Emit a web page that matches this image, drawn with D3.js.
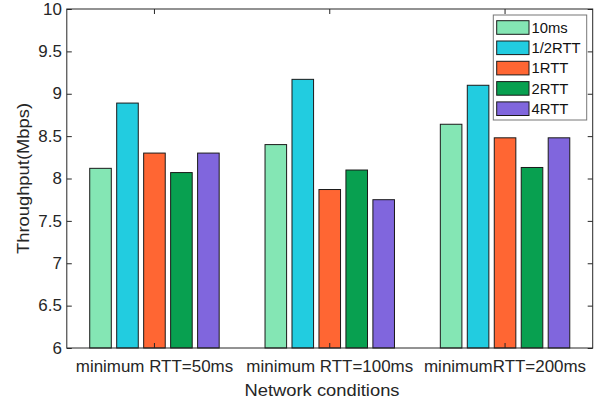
<!DOCTYPE html>
<html>
<head>
<meta charset="utf-8">
<script src="https://cdn.jsdelivr.net/npm/d3@7"></script>
<style>
  body { margin: 0; background: #fff; }
  svg { display: block; font-family: 'Liberation Sans', Arial, Helvetica, sans-serif; }
</style>
</head>
<body>
<svg id="chart" width="600" height="403"></svg>
<script>
// Dados do gráfico
const groups = ['minimum RTT=50ms', 'minimum RTT=100ms', 'minimumRTT=200ms'];
const seriesNames = ['10ms', '1/2RTT', '1RTT', '2RTT', '4RTT'];
const seriesColors = ['#84e6b4', '#22cce0', '#ff6633', '#08a050', '#8066dd'];

const v10ms = [8.12, 8.40, 8.64];
const vHalfRtt = [8.89, 9.17, 9.10];
const v1Rtt = [8.30, 7.87, 8.48];
const v2Rtt = [8.07, 8.10, 8.13];
const v4Rtt = [8.30, 7.75, 8.48];
const seriesValues = [v10ms, vHalfRtt, v1Rtt, v2Rtt, v4Rtt];

const yTicks = [6, 6.5, 7, 7.5, 8, 8.5, 9, 9.5, 10];

// Área dos eixos
const plotLeft = 66.8, plotRight = 592.7, plotTop = 9, plotBottom = 348;
const axisColor = '#262626';
const stretch = 1.06; // o Helvetica do original é um pouco mais largo

const svg = d3.select('#chart');

const x = d3.scaleBand().domain(groups).range([plotLeft, plotRight]).padding(0);
const xs = d3.scaleBand().domain(seriesNames).range([0, x.bandwidth()])
    .paddingInner(0.2).paddingOuter(0.85);
const y = d3.scaleLinear().domain([6, 10]).range([plotBottom, plotTop]);

// Barras
const barLayer = svg.append('g');
seriesNames.forEach((name, s) => {
    barLayer.selectAll(null)
        .data(seriesValues[s])
        .enter()
        .append('rect')
        .attr('x', (d, i) => x(groups[i]) + xs(name))
        .attr('y', (d) => y(d))
        .attr('width', xs.bandwidth())
        .attr('height', (d) => y(6) - y(d))
        .attr('fill', seriesColors[s])
        .attr('stroke', '#1a1a1a')
        .attr('stroke-width', 1);
});

// Eixos
function styleAxis(g) {
    g.select('.domain').remove();
    g.selectAll('line').attr('stroke', axisColor);
    g.selectAll('text')
        .attr('fill', axisColor)
        .style('font-size', '16px')
        .style('font-family', "'Liberation Sans', Arial, sans-serif");
}

const yAxisLeft = svg.append('g')
    .attr('transform', `translate(${plotLeft},0)`)
    .call(d3.axisLeft(y).tickValues(yTicks).tickSize(-5).tickPadding(5).tickFormat(d3.format('')))
    .call(styleAxis);
yAxisLeft.selectAll('text').attr('x', -4.6).attr('transform', `scale(${stretch},1)`);

svg.append('g')
    .attr('transform', `translate(${plotRight},0)`)
    .call(d3.axisRight(y).tickValues(yTicks).tickSize(-5).tickFormat(''))
    .call(styleAxis);

const xAxisBottom = svg.append('g')
    .attr('transform', `translate(0,${plotBottom})`)
    .call(d3.axisBottom(x).tickSize(-5).tickPadding(12.5))
    .call(styleAxis);
xAxisBottom.selectAll('text').attr('transform', `scale(${stretch},1)`);

svg.append('g')
    .attr('transform', `translate(0,${plotTop})`)
    .call(d3.axisTop(x).tickSize(-5).tickFormat(''))
    .call(styleAxis);

svg.append('rect')
    .attr('x', plotLeft).attr('y', plotTop)
    .attr('width', plotRight - plotLeft).attr('height', plotBottom - plotTop)
    .attr('fill', 'none')
    .attr('stroke', axisColor)
    .attr('stroke-width', 1);

// Rótulos dos eixos
svg.append('text')
    .attr('transform', `translate(322,395.5) scale(1.08,1)`)
    .attr('text-anchor', 'middle')
    .attr('fill', axisColor)
    .style('font-size', '17px')
    .text('Network conditions');

svg.append('text')
    .attr('transform', `translate(28.5,${(plotTop + plotBottom) / 2}) rotate(-90) scale(1.08,1)`)
    .attr('text-anchor', 'middle')
    .attr('fill', axisColor)
    .style('font-size', '17px')
    .text('Throughput(Mbps)');

// Legenda
const legend = svg.append('g');
legend.append('rect')
    .attr('x', 493.3).attr('y', 15)
    .attr('width', 93.4).attr('height', 105)
    .attr('fill', '#fff')
    .attr('stroke', '#777')
    .attr('stroke-width', 1);

const item = legend.selectAll('g.item')
    .data(seriesNames)
    .enter()
    .append('g')
    .attr('class', 'item')
    .attr('transform', (d, i) => `translate(0,${27.5 + i * 20.3})`);

item.append('rect')
    .attr('x', 496.7).attr('y', -6.8)
    .attr('width', 32.3).attr('height', 13.6)
    .attr('fill', (d, i) => seriesColors[i])
    .attr('stroke', '#1a1a1a')
    .attr('stroke-width', 1);

item.append('text')
    .attr('x', 531.5).attr('y', 5.2)
    .attr('fill', '#111')
    .style('font-size', '14.8px')
    .text((d) => d);
</script>
</body>
</html>
